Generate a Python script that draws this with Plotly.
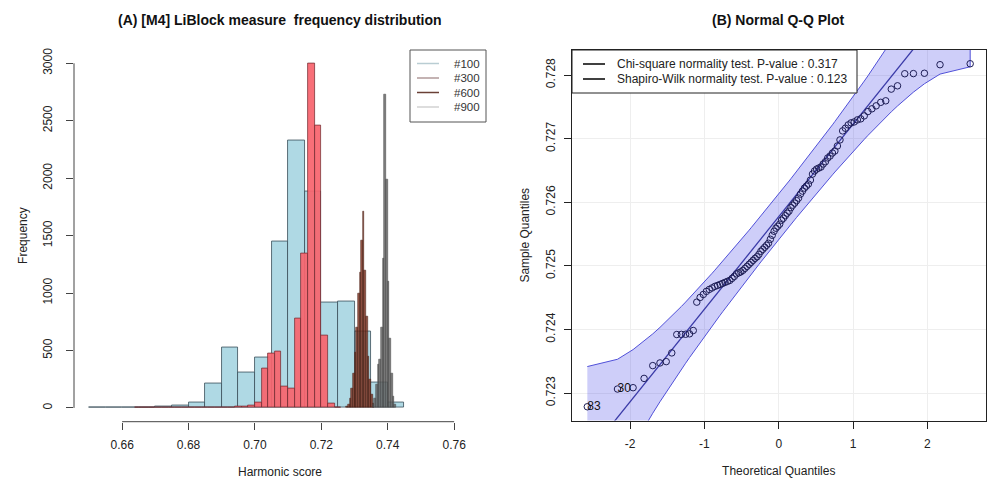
import plotly.graph_objects as go
from statistics import NormalDist
import math

# ---------------- data: panel A (histograms) ----------------
series_names = ["#100", "#300", "#600", "#900"]

h100_start, h100_width = 0.650, 0.005
h100_counts = [2, 2, 3, 5, 10, 20, 50, 210, 525, 305, 440, 1450, 2330, 1880,
               915, 925, 665, 220, 50]

h300_start, h300_width = 0.664, 0.002
h300_counts = [1, 1, 2, 2, 3, 3, 4, 4, 5, 5, 6, 6, 6, 7, 8, 10, 14, 22, 50,
               345, 475, 495, 185, 172, 780, 1340, 3000, 2455, 628, 40, 2]

h600_start, h600_width = 0.7275, 0.0005
h600_counts = [10, 30, 80, 170, 300, 480, 700, 1000, 1180, 1460, 1710, 1200,
               800, 450, 250, 120, 40]

h900_start, h900_width = 0.7355, 0.0005
h900_counts = [30, 80, 200, 380, 420, 700, 1300, 2730, 1990, 1100, 600, 300,
               100, 30]

hist_xticks = [0.66, 0.68, 0.70, 0.72, 0.74, 0.76]
hist_yticks = [0, 500, 1000, 1500, 2000, 2500, 3000]

# ---------------- data: panel B (Q-Q plot) ----------------
sample_sorted = [
    0.722784, 0.723063, 0.723084, 0.723230, 0.723431, 0.723473, 0.723494, 0.723631,
    0.723920, 0.723922, 0.723924, 0.723931, 0.723983, 0.724429, 0.724503, 0.724550,
    0.724598, 0.724629, 0.724653, 0.724677, 0.724692, 0.724708, 0.724724, 0.724740,
    0.724756, 0.724771, 0.724803, 0.724834, 0.724874, 0.724890, 0.724905, 0.724929,
    0.724961, 0.724992, 0.725024, 0.725055, 0.725087, 0.725118, 0.725142, 0.725181,
    0.725229, 0.725260, 0.725292, 0.725323, 0.725355, 0.725418, 0.725481, 0.725544,
    0.725592, 0.725623, 0.725655, 0.725718, 0.725749, 0.725789, 0.725828, 0.725860,
    0.725915, 0.725954, 0.725986, 0.726025, 0.726065, 0.726128, 0.726175, 0.726222,
    0.726254, 0.726286, 0.726349, 0.726443, 0.726491, 0.726522, 0.726538, 0.726554,
    0.726601, 0.726637, 0.726696, 0.726727, 0.726774, 0.726806, 0.726885, 0.726980,
    0.727122, 0.727164, 0.727216, 0.727248, 0.727263, 0.727295, 0.727311, 0.727358,
    0.727426, 0.727469, 0.727516, 0.727571, 0.727595, 0.727779, 0.727831, 0.728021,
    0.728023, 0.728028, 0.728163, 0.728178]
outlier_rank = [1, 2]          # positions (1-based) in the sorted sample
outlier_labels = ["83", "30"]
ref_intercept = 0.725773
ref_slope = 0.001455
conf_level = 0.95
qq_xticks = [-2, -1, 0, 1, 2]
qq_yticks = [0.723, 0.724, 0.725, 0.726, 0.727, 0.728]
test_labels = ["Chi-square normality test. P-value : 0.317",
               "Shapiro-Wilk normality test. P-value : 0.123"]

FONT = "Liberation Sans, Arial, Helvetica, sans-serif"
W, H = 992, 479

fig = go.Figure()

def centers(start, width, counts):
    return [start + (i + 0.5) * width for i in range(len(counts))]

hist_specs = [
    (h100_start, h100_width, h100_counts, "rgba(168,214,226,0.92)", "rgba(60,80,90,0.9)", 0.9),
    (h300_start, h300_width, h300_counts, "rgba(247,100,110,0.93)", "rgba(110,40,45,0.9)", 0.8),
    (h600_start, h600_width, h600_counts, "rgba(125,45,28,0.8)", "rgba(70,30,20,0.9)", 0.6),
    (h900_start, h900_width, h900_counts, "rgba(100,100,100,0.82)", "rgba(70,70,70,0.9)", 0.6),
]
for (st, wd, cnt, fc, lc, lw), nm in zip(hist_specs, series_names):
    fig.add_trace(go.Bar(x=centers(st, wd, cnt), y=cnt, width=wd,
                         marker=dict(color=fc, line=dict(color=lc, width=lw)),
                         name=nm, showlegend=False, xaxis="x", yaxis="y"))

# ---------------- Q-Q panel ----------------
n = len(sample_sorted)
nd = NormalDist()
probs = [(i + 0.5) / n for i in range(n)]          # ppoints(n)
zq = [nd.inv_cdf(p) for p in probs]
zcrit = nd.inv_cdf(1 - (1 - conf_level) / 2)
fit = [ref_intercept + ref_slope * z for z in zq]
se = [(ref_slope / nd.pdf(z)) * math.sqrt(p * (1 - p) / n) for z, p in zip(zq, probs)]
upper = [f + zcrit * s for f, s in zip(fit, se)]
lower = [f - zcrit * s for f, s in zip(fit, se)]

band_line = "#5050d8"
fig.add_trace(go.Scatter(x=zq + zq[::-1], y=upper + lower[::-1], fill="toself",
                         fillcolor="rgba(80,80,235,0.28)", mode="lines",
                         line=dict(color=band_line, width=1), showlegend=False,
                         hoverinfo="skip", xaxis="x2", yaxis="y2"))
fig.add_trace(go.Scatter(x=[zq[0], zq[-1]], y=[fit[0], fit[-1]], mode="lines",
                         line=dict(color="#3a3aa8", width=1.3), showlegend=False,
                         xaxis="x2", yaxis="y2"))
fig.add_trace(go.Scatter(x=zq, y=sample_sorted, mode="markers",
                         marker=dict(symbol="circle-open", size=6.5,
                                     color="#1d1d55", line=dict(width=1)),
                         showlegend=False, xaxis="x2", yaxis="y2"))
fig.add_trace(go.Scatter(x=[zq[r - 1] for r in outlier_rank],
                         y=[sample_sorted[r - 1] for r in outlier_rank],
                         mode="text", text=outlier_labels, textposition="middle right",
                         textfont=dict(family=FONT, size=12, color="#111"),
                         showlegend=False, xaxis="x2", yaxis="y2"))

# ---------------- layout ----------------
def px_x(p):
    return p / W

def px_y(p):
    return 1 - p / H

tickfont = dict(family=FONT, size=12, color="#222")
titlefont = dict(family=FONT, size=12, color="#222")

shapes = [
    dict(type="line", xref="x", yref="y domain", x0=hist_xticks[0], x1=hist_xticks[-1],
         y0=0, y1=0, line=dict(color="#444", width=1)),
    dict(type="line", xref="x domain", yref="y", x0=0, x1=0,
         y0=hist_yticks[0], y1=hist_yticks[-1], line=dict(color="#444", width=1)),
]
annotations = [
    dict(text="<b>(A) [M4] LiBlock measure  frequency distribution</b>",
         x=px_x(280), y=px_y(20), xref="paper", yref="paper",
         xanchor="center", yanchor="middle", showarrow=False,
         font=dict(family=FONT, size=14, color="#111")),
    dict(text="<b>(B) Normal Q-Q Plot</b>",
         x=px_x(778), y=px_y(20), xref="paper", yref="paper",
         xanchor="center", yanchor="middle", showarrow=False,
         font=dict(family=FONT, size=14, color="#111")),
]

# legend for panel A (drawn box, keys and labels)
legA_cols = ["#b9cdd3", "#b09a9a", "#6a4036", "#d2d2d2"]
shapes.append(dict(type="rect", xref="paper", yref="paper", x0=px_x(410), x1=px_x(486),
                   y0=px_y(122), y1=px_y(50), line=dict(color="#555", width=1),
                   fillcolor="white", layer="above"))
for i, (nm, c) in enumerate(zip(series_names, legA_cols)):
    yy = 63.5 + 14.5 * i
    shapes.append(dict(type="line", xref="paper", yref="paper", x0=px_x(417), x1=px_x(439),
                       y0=px_y(yy), y1=px_y(yy), line=dict(color=c, width=1.5),
                       layer="above"))
    annotations.append(dict(text=nm, x=px_x(452), y=px_y(yy), xref="paper", yref="paper",
                            xanchor="left", yanchor="middle", showarrow=False,
                            font=dict(family=FONT, size=11.5, color="#333")))

# legend for panel B
shapes.append(dict(type="rect", xref="paper", yref="paper", x0=px_x(572), x1=px_x(857),
                   y0=px_y(93), y1=px_y(50), line=dict(color="#222", width=1),
                   fillcolor="white", layer="above"))
for i, lab in enumerate(test_labels):
    yy = 64 + 15 * i
    shapes.append(dict(type="line", xref="paper", yref="paper", x0=px_x(583), x1=px_x(605),
                       y0=px_y(yy), y1=px_y(yy), line=dict(color="black", width=1.5),
                       layer="above"))
    annotations.append(dict(text=lab, x=px_x(615), y=px_y(yy), xref="paper", yref="paper",
                            xanchor="left", yanchor="middle", showarrow=False,
                            font=dict(family=FONT, size=12, color="#222")))

fig.update_layout(
    width=W, height=H, margin=dict(l=0, r=0, t=0, b=0),
    paper_bgcolor="white", plot_bgcolor="white",
    barmode="overlay", bargap=0, showlegend=False,
    font=dict(family=FONT, size=12, color="#222"),
    xaxis=dict(domain=[px_x(74), px_x(486)], range=[0.6455, 0.7696],
               tickvals=hist_xticks, ticktext=[f"{v:.2f}" for v in hist_xticks],
               ticks="outside", ticklen=7, tickcolor="#444", showline=False,
               showgrid=False, zeroline=False, tickfont=tickfont, ticklabelstandoff=5,
               automargin=False,
               title=dict(text="Harmonic score", font=titlefont, standoff=16),
               anchor="y"),
    yaxis=dict(domain=[px_y(421.7), px_y(49.5)], range=[-120, 3120],
               tickvals=hist_yticks, ticks="outside", ticklen=7, tickcolor="#444",
               showline=False, showgrid=False, zeroline=False, tickangle=-90,
               tickfont=tickfont, ticklabelstandoff=9, automargin=False,
               title=dict(text="Frequency", font=titlefont, standoff=10),
               anchor="x"),
    xaxis2=dict(domain=[px_x(572), px_x(985.5)], range=[-2.782, 2.782],
                tickvals=qq_xticks, ticktext=[str(v) for v in qq_xticks],
                ticks="outside", ticklen=7, tickcolor="#222",
                showline=True, linecolor="#222", linewidth=1, mirror=True,
                showgrid=True, gridcolor="#eeeeee", zeroline=False,
                tickfont=tickfont, ticklabelstandoff=5, automargin=False,
                title=dict(text="Theoretical Quantiles", font=titlefont, standoff=16),
                anchor="y2"),
    yaxis2=dict(domain=[px_y(420.5), px_y(50)], range=[0.722568, 0.728394],
                tickvals=qq_yticks, ticktext=[f"{v:.3f}" for v in qq_yticks],
                ticks="outside", ticklen=7, tickcolor="#222",
                showline=True, linecolor="#222", linewidth=1, mirror=True,
                showgrid=True, gridcolor="#eeeeee", zeroline=False, tickangle=-90,
                tickfont=tickfont, ticklabelstandoff=4, automargin=False,
                title=dict(text="Sample Quantiles", font=titlefont, standoff=12),
                anchor="x2"),
    annotations=annotations,
    shapes=shapes,
)

fig.write_html("out.html", config={"displayModeBar": False},
               post_script="document.body.style.margin='0';document.body.style.padding='0';")
